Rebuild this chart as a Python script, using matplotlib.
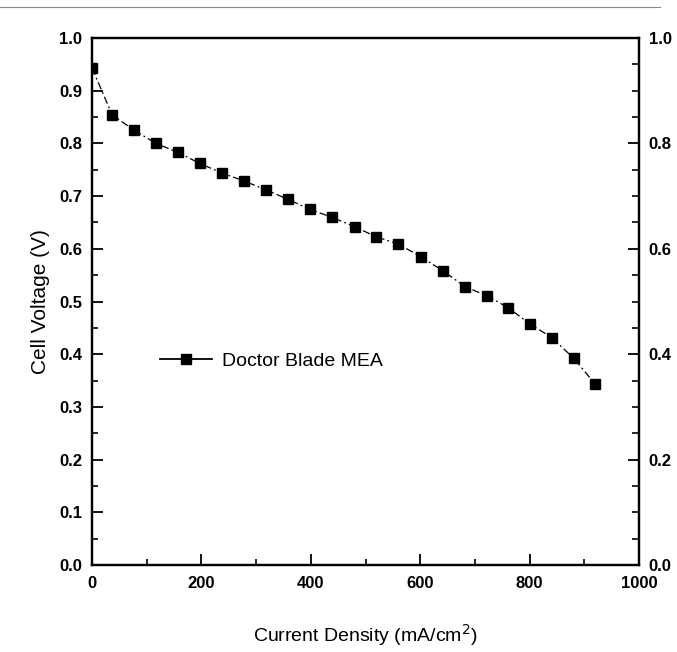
import matplotlib
matplotlib.use("Agg")
import matplotlib.pyplot as plt
from matplotlib.ticker import MultipleLocator
from matplotlib.lines import Line2D
from matplotlib import font_manager

plt.rcParams['font.family'] = ['Liberation Sans', 'DejaVu Sans']

# Polarization curve of the doctor-blade MEA
current_density = [0, 37, 77, 117, 157, 197, 237, 277, 318, 358, 398, 438,
                   480, 519, 560, 601, 642, 682, 722, 761, 800, 841, 881, 920]
cell_voltage = [0.943, 0.854, 0.825, 0.800, 0.783, 0.762, 0.744, 0.729,
                0.712, 0.694, 0.675, 0.660, 0.642, 0.623, 0.609, 0.585,
                0.558, 0.528, 0.511, 0.488, 0.458, 0.431, 0.392, 0.343]
series_label = "Doctor Blade MEA"

x_ticks = [0, 200, 400, 600, 800, 1000]
left_ticks = [0.0, 0.1, 0.2, 0.3, 0.4, 0.5, 0.6, 0.7, 0.8, 0.9, 1.0]
right_ticks = [0.0, 0.2, 0.4, 0.6, 0.8, 1.0]

# narrow face for the tick numbers when it is installed
names = {f.name for f in font_manager.fontManager.ttflist}
tick_family = ['Liberation Sans Narrow'] if 'Liberation Sans Narrow' in names else ['Liberation Sans']
tick_font = dict(family=tick_family + ['DejaVu Sans'], weight='bold', size=12)

fig = plt.figure(figsize=(6.77, 6.52), dpi=100)
ax = fig.add_axes([92 / 677, 87 / 652, 547 / 677, 527 / 652])

ax.plot(current_density, cell_voltage, color='black', lw=0.9,
        linestyle=(0, (6, 2.5, 1.5, 2.5)), marker='s', markersize=6.5,
        markerfacecolor='black', markeredgecolor='black')

ax.set_xlim(0, 1000)
ax.set_ylim(0, 1.0)
ax.set_xticks(x_ticks)
ax.set_xticklabels([str(v) for v in x_ticks], fontdict=tick_font)
ax.set_yticks(left_ticks)
ax.set_yticklabels([f"{v:.1f}" for v in left_ticks], fontdict=tick_font)
ax.xaxis.set_minor_locator(MultipleLocator(100))
ax.yaxis.set_minor_locator(MultipleLocator(0.05))

for s in ax.spines.values():
    s.set_linewidth(1.6)

ax.tick_params(axis='both', which='major', direction='in', length=8, width=1.3,
               top=False, right=False)
ax.tick_params(axis='x', which='major', pad=8)
ax.tick_params(axis='y', which='major', pad=7)
ax.tick_params(axis='both', which='minor', direction='in', length=4, width=1.2,
               top=False, right=False)

ax2 = ax.twinx()
ax2.set_ylim(0, 1.0)
ax2.set_yticks(right_ticks)
ax2.set_yticklabels([f"{v:.1f}" for v in right_ticks], fontdict=tick_font)
ax2.yaxis.set_minor_locator(MultipleLocator(0.05))
ax2.tick_params(axis='y', which='major', direction='in', length=8, width=1.3, pad=7)
ax2.tick_params(axis='y', which='minor', direction='in', length=5, width=1.2)
for s in ax2.spines.values():
    s.set_linewidth(1.6)

ax.set_xlabel("Current Density (mA/cm$^2$)", fontsize=14, va='top')
ax.xaxis.set_label_coords(0.5, -0.108)
ax.set_ylabel("Cell Voltage (V)", fontsize=15, va='center')
ax.yaxis.set_label_coords(-0.095, 0.5)

handle = Line2D([], [], color='black', lw=1.3, marker='s', markersize=7,
                markerfacecolor='black')
ax.legend([handle], [series_label], loc='center left',
          bbox_to_anchor=(0.124, 0.387), frameon=False, fontsize=14,
          handlelength=2.68, handletextpad=0.5, borderaxespad=0, borderpad=0)

# faint rule across the top of the page
fig.add_artist(Line2D([0.0, 0.975], [1 - 7 / 652, 1 - 7 / 652],
                      transform=fig.transFigure, color='#888888', lw=0.8))

fig.savefig("out.png", dpi=100)
